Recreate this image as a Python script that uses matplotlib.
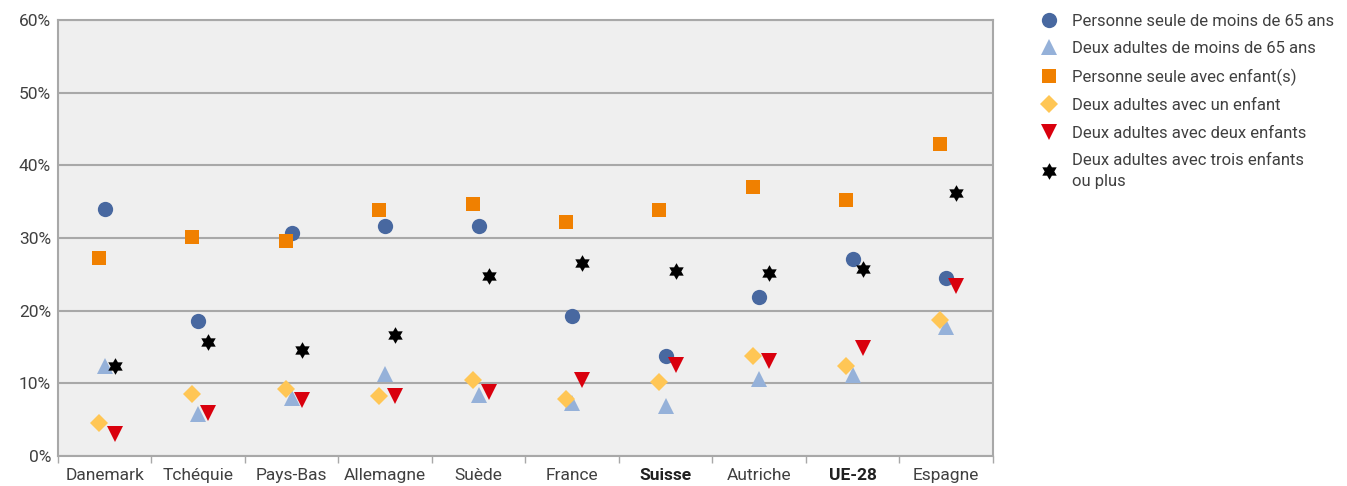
import numpy as np
import matplotlib.pyplot as plt

plt.rcParams['font.family'] = ['Roboto', 'DejaVu Sans']

pays = ['Danemark', 'Tchéquie', 'Pays-Bas', 'Allemagne', 'Suède',
        'France', 'Suisse', 'Autriche', 'UE-28', 'Espagne']
gras = ['Suisse', 'UE-28']

# valeurs en %
seule_moins65 = [34.0, 18.5, 30.7, 31.7, 31.6, 19.3, 13.8, 21.9, 27.1, 24.5]
deux_moins65 = [12.3, 5.7, 8.0, 11.3, 8.4, 7.3, 6.9, 10.6, 11.1, 17.8]
seule_enfants = [27.2, 30.1, 29.6, 33.9, 34.6, 32.2, 33.9, 37.0, 35.2, 42.9]
deux_un_enfant = [4.5, 8.5, 9.2, 8.3, 10.4, 7.8, 10.2, 13.8, 12.4, 18.7]
deux_deux_enfants = [3.0, 5.9, 7.7, 8.3, 8.8, 10.5, 12.5, 13.1, 14.8, 23.4]
deux_trois_enfants = [12.4, 15.7, 14.6, 16.7, 24.8, 26.6, 25.5, 25.2, 25.7, 36.2]

# étoile à six branches (hexagramme)
ang = np.pi / 2 + np.arange(12) * np.pi / 6
rad = np.where(np.arange(12) % 2 == 0, 1.0, 0.577)
etoile = list(zip(rad * np.cos(ang), rad * np.sin(ang)))

series = [
    ('Personne seule de moins de 65 ans', seule_moins65, 'o', '#4868a0', 0.0, 11),
    ('Deux adultes de moins de 65 ans', deux_moins65, '^', '#95b1d9', 0.0, 12),
    ('Personne seule avec enfant(s)', seule_enfants, 's', '#f08000', -0.065, 10.5),
    ('Deux adultes avec un enfant', deux_un_enfant, 'D', '#ffc655', -0.065, 9),
    ('Deux adultes avec deux enfants', deux_deux_enfants, 'v', '#d9000d', 0.107, 12),
    ('Deux adultes avec trois enfants\nou plus', deux_trois_enfants, etoile, 'black', 0.107, 12),
]

fig = plt.figure(figsize=(13.47, 4.86), dpi=100)
ax = fig.add_axes([0.043, 0.062, 0.694, 0.897])
ax.set_facecolor('#efefef')

x = np.arange(len(pays))
for nom, vals, mk, col, dx, ms in series:
    ax.plot(x + dx, vals, linestyle='none', marker=mk, color=col,
            markersize=ms, markeredgewidth=0, label=nom, zorder=3)

ax.set_xlim(-0.5, len(pays) - 0.5)
ax.set_ylim(0, 60)
ax.set_yticks(np.arange(0, 61, 10))
ax.set_yticklabels([f'{v}%' for v in range(0, 61, 10)])
ax.yaxis.grid(True, color='#a8a8a8', linewidth=1.5)
ax.set_axisbelow(True)

ax.set_xticks(x)
ax.set_xticklabels(pays)
ax.set_xticks(np.arange(-0.5, len(pays), 1), minor=True)
ax.tick_params(axis='x', which='major', length=0, pad=9, labelsize=12.5, labelcolor='#404040')
ax.tick_params(axis='x', which='minor', length=5, color='#a8a8a8', width=1)
ax.tick_params(axis='y', length=0, pad=5, labelsize=12.5, labelcolor='#404040')
for lab in ax.get_xticklabels():
    if lab.get_text() in gras:
        lab.set_fontweight('bold')
        lab.set_color('#202020')

for s in ax.spines.values():
    s.set_color('#a8a8a8')
    s.set_linewidth(1.5)

leg = ax.legend(loc='upper left', bbox_to_anchor=(1.042, 1.03), frameon=False,
                handletextpad=0.8, labelspacing=0.75,
                handlelength=1.2, borderaxespad=0, prop={'size': 12})
for t in leg.get_texts():
    t.set_color('#404040')
    t.set_linespacing(1.45)

fig.savefig('out.png', dpi=100)
